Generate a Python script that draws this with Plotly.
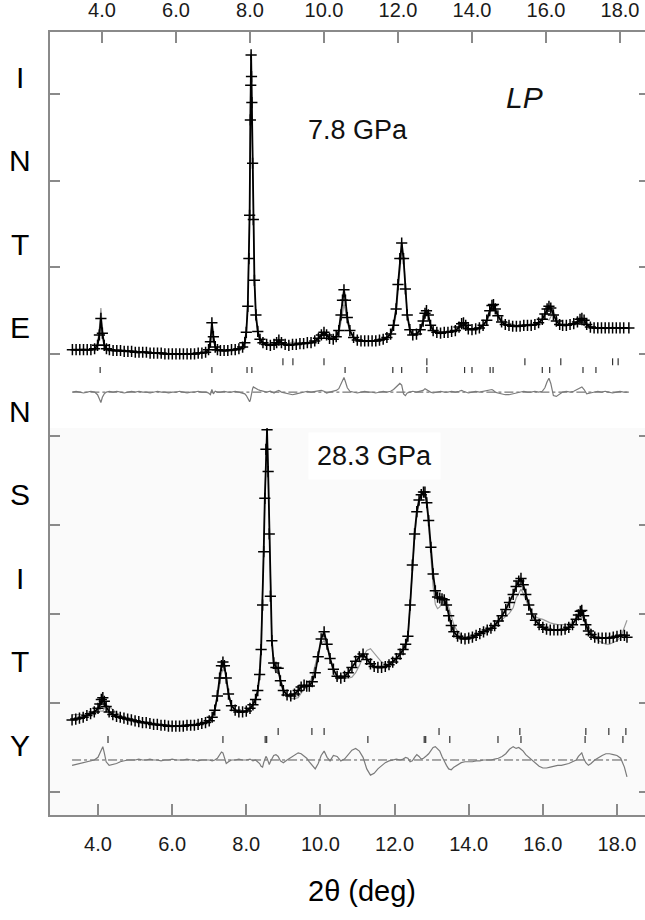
import plotly.graph_objects as go

# ---------------- 7.8 GPa pattern (upper panel) ----------------
U_X = [3.2, 3.3, 3.4, 3.5, 3.6, 3.7, 3.8, 3.88, 3.93, 3.97, 4.01, 4.06, 4.12, 4.2, 4.3, 4.4, 4.5, 4.6, 4.7, 4.8,
       4.9, 5.0, 5.1, 5.2, 5.3, 5.4, 5.5, 5.6, 5.7, 5.8, 5.9, 6.0, 6.1, 6.2, 6.3, 6.4, 6.5, 6.6, 6.7, 6.8,
       6.88, 6.93, 6.97, 7.01, 7.06, 7.12, 7.2, 7.3, 7.4, 7.5, 7.6, 7.7, 7.8, 7.86, 7.9, 7.94, 7.97, 7.99, 8.01, 8.02,
       8.03, 8.04, 8.05, 8.07, 8.09, 8.12, 8.16, 8.21, 8.27, 8.35, 8.45, 8.55, 8.65, 8.72, 8.78, 8.85, 8.95, 9.05, 9.15, 9.25,
       9.35, 9.45, 9.55, 9.65, 9.75, 9.85, 9.93, 10.0, 10.07, 10.15, 10.25, 10.33, 10.4, 10.46, 10.5, 10.54, 10.58, 10.63, 10.7, 10.8,
       10.9, 11.0, 11.1, 11.2, 11.3, 11.4, 11.5, 11.6, 11.7, 11.8, 11.88, 11.95, 12.0, 12.05, 12.1, 12.15, 12.2, 12.25, 12.32, 12.4,
       12.5, 12.6, 12.68, 12.73, 12.77, 12.82, 12.88, 12.95, 13.05, 13.15, 13.25, 13.35, 13.45, 13.55, 13.65, 13.72, 13.77, 13.83, 13.9, 14.0,
       14.1, 14.2, 14.3, 14.4, 14.48, 14.54, 14.58, 14.63, 14.7, 14.8, 14.9, 15.0, 15.1, 15.2, 15.3, 15.4, 15.5, 15.6, 15.7, 15.8,
       15.9, 15.97, 16.03, 16.08, 16.13, 16.2, 16.28, 16.37, 16.45, 16.55, 16.65, 16.75, 16.85, 16.92, 16.97, 17.03, 17.1, 17.2, 17.3, 17.4,
       17.5, 17.6, 17.7, 17.8, 17.9, 18.0, 18.1, 18.24]

U_OBS = [.05, .05, .05, .05, .05, .05, .06, .10, .22, .41, .24, .10, .06, .05, .04, .04, .04, .03, .03, .03,
         .02, .02, .02, .02, .01, .01, .01, .01, .00, .00, .00, .00, .00, .00, .00, .00, .00, .01, .01, .02,
         .05, .14, .36, .20, .08, .05, .04, .04, .04, .05, .05, .06, .08, .13, .25, .55, 1.1, 1.6, 2.7, 3.1,
         3.45, 3.2, 2.9, 2.2, 1.55, .85, .45, .26, .17, .13, .11, .10, .11, .13, .16, .13, .11, .10, .11, .11,
         .12, .12, .13, .13, .15, .18, .22, .25, .22, .18, .17, .20, .27, .45, .62, .74, .62, .42, .27, .19,
         .16, .15, .15, .15, .15, .15, .16, .17, .19, .23, .33, .52, .80, 1.1, 1.28, 1.1, .75, .45, .28, .22,
         .23, .28, .38, .47, .50, .45, .33, .27, .25, .24, .25, .25, .26, .27, .31, .35, .36, .33, .29, .28,
         .29, .30, .33, .39, .50, .56, .57, .52, .44, .37, .34, .33, .32, .32, .32, .33, .33, .33, .34, .36,
         .40, .46, .52, .55, .53, .45, .38, .34, .33, .33, .34, .35, .37, .40, .41, .39, .34, .31, .30, .30,
         .30, .30, .30, .30, .30, .30, .30, .30]

# observed minus calculated
U_DIFF = [0, .01, 0, -.01, 0, .01, 0, -.03, -.08, -.12, -.06, -.02, 0, .01, 0, .01, 0, -.01, 0, .01,
          0, .01, 0, 0, -.01, 0, .01, 0, 0, -.01, 0, 0, .01, 0, -.01, 0, 0, .01, 0, 0,
          -.01, -.03, .03, -.02, .01, 0, 0, .01, 0, 0, .01, 0, -.01, -.02, -.04, -.07, -.10, -.11, -.09, -.06,
          -.03, 0, .02, .04, .06, .05, .04, .03, .02, .01, 0, .01, -.01, .01, .02, 0, -.01, -.02, -.03, -.02,
          -.01, 0, .01, 0, .01, .02, .02, .01, -.01, 0, .01, .02, .04, .10, .15, .17, .12, .05, .01, 0,
          -.01, 0, .01, 0, 0, -.01, 0, .01, 0, .01, .03, .06, .09, .10, .08, -.02, -.04, -.01, 0, .01,
          0, .01, .02, .04, .03, .01, 0, -.01, 0, .01, 0, 0, .01, 0, .01, .02, .01, 0, -.01, 0,
          .01, 0, .01, .02, .03, .03, .02, 0, -.01, -.02, -.03, -.03, -.02, -.01, 0, .01, 0, 0, .01, 0,
          .01, .05, .12, .16, .10, -.04, -.05, -.02, 0, .01, 0, .01, .03, .05, .06, .03, -.02, -.01, 0, .01,
          0, .01, 0, -.01, 0, .01, 0, 0]

U_REFL_A = [8.89, 9.16, 10.0, 12.78, 15.43, 16.4, 17.8, 17.95]
U_REFL_B = [3.95, 6.97, 7.92, 8.05, 10.57, 11.86, 12.1, 12.78, 13.8, 14.0, 14.49, 14.57, 15.9, 16.1, 17.0, 17.35]

# ---------------- 28.3 GPa pattern (lower panel) ----------------
L_X = [3.3, 3.4, 3.5, 3.6, 3.7, 3.8, 3.9, 4.0, 4.05, 4.09, 4.13, 4.17, 4.22, 4.3, 4.4, 4.5, 4.6, 4.7, 4.8, 4.9,
       5.0, 5.1, 5.2, 5.3, 5.4, 5.5, 5.6, 5.7, 5.8, 5.9, 6.0, 6.1, 6.2, 6.3, 6.4, 6.5, 6.6, 6.7, 6.8, 6.9,
       7.0, 7.08, 7.15, 7.22, 7.28, 7.33, 7.37, 7.41, 7.46, 7.52, 7.6, 7.7, 7.8, 7.9, 8.0, 8.1, 8.18, 8.25, 8.31, 8.36,
       8.4, 8.44, 8.47, 8.5, 8.53, 8.56, 8.59, 8.62, 8.65, 8.69, 8.74, 8.8, 8.86, 8.92, 9.0, 9.1, 9.2, 9.3, 9.4, 9.48,
       9.56, 9.63, 9.7, 9.78, 9.86, 9.94, 10.02, 10.1, 10.18, 10.26, 10.35, 10.45, 10.55, 10.65, 10.75, 10.85, 10.95, 11.05, 11.15, 11.25,
       11.35, 11.45, 11.55, 11.65, 11.75, 11.85, 11.95, 12.05, 12.15, 12.23, 12.3, 12.36, 12.42, 12.48, 12.54, 12.6, 12.66, 12.72, 12.78, 12.82,
       12.87, 12.92, 12.98, 13.04, 13.1, 13.16, 13.22, 13.28, 13.34, 13.4, 13.46, 13.53, 13.6, 13.7, 13.8, 13.9, 14.0, 14.1, 14.2, 14.3,
       14.4, 14.5, 14.6, 14.7, 14.8, 14.9, 15.0, 15.1, 15.2, 15.28, 15.35, 15.41, 15.47, 15.54, 15.62, 15.7, 15.8, 15.9, 16.0, 16.1,
       16.2, 16.3, 16.4, 16.5, 16.6, 16.7, 16.8, 16.9, 16.96, 17.01, 17.05, 17.1, 17.16, 17.23, 17.3, 17.4, 17.5, 17.6, 17.7, 17.8,
       17.9, 18.0, 18.1, 18.2, 18.27]

L_OBS = [.81, .82, .83, .84, .86, .88, .90, .94, .99, 1.04, 1.06, 1.02, .96, .90, .87, .85, .84, .83, .82, .81,
         .80, .79, .78, .78, .77, .76, .76, .75, .75, .74, .74, .74, .74, .74, .75, .75, .75, .76, .77, .78,
         .80, .84, .92, 1.08, 1.28, 1.42, 1.46, 1.42, 1.28, 1.10, .97, .92, .90, .90, .91, .94, .98, 1.04, 1.14, 1.32,
         1.6, 2.1, 2.7, 3.3, 3.85, 4.07, 3.6, 2.9, 2.2, 1.7, 1.45, 1.40, 1.39, 1.25, 1.14, 1.09, 1.08, 1.10, 1.14, 1.18,
         1.20, 1.19, 1.19, 1.24, 1.34, 1.52, 1.72, 1.80, 1.66, 1.50, 1.38, 1.30, 1.28, 1.30, 1.34, 1.40, 1.47, 1.52, 1.55, 1.49,
         1.44, 1.41, 1.40, 1.40, 1.41, 1.43, 1.46, 1.50, 1.55, 1.60, 1.66, 1.75, 2.1, 2.55, 2.9, 3.15, 3.28, 3.34, 3.37, 3.37,
         3.25, 3.05, 2.75, 2.45, 2.26, 2.19, 2.18, 2.17, 2.16, 2.1, 1.98, 1.87, 1.8, 1.75, 1.73, 1.72, 1.73, 1.74, 1.76, 1.78,
         1.80, 1.82, 1.84, 1.87, 1.92, 1.98, 2.05, 2.13, 2.22, 2.31, 2.37, 2.40, 2.33, 2.22, 2.10, 2.0, 1.93, 1.88, 1.85, 1.83,
         1.82, 1.82, 1.82, 1.82, 1.83, 1.85, 1.88, 1.94, 1.99, 2.03, 2.04, 1.98, 1.88, 1.81, 1.77, 1.74, 1.73, 1.73, 1.73, 1.73,
         1.74, 1.75, 1.76, 1.76, 1.74]

L_DIFF = [-.06, -.05, -.04, -.03, -.02, -.01, 0, .03, .08, .13, .15, .08, -.02, -.06, -.05, -.04, -.02, -.01, 0, 0,
          0, .01, 0, 0, .01, 0, 0, -.01, 0, 0, .01, 0, 0, 0, .01, 0, 0, -.01, 0, 0,
          0, -.01, 0, .02, .06, .09, .08, .02, -.04, -.02, 0, 0, .01, 0, 0, .01, -.01, 0, -.02, -.04,
          -.07, -.08, -.03, .02, .04, .02, -.02, -.05, -.02, .02, .05, .06, .04, -.01, -.03, 0, .03, .05, .08, .07,
          .04, .02, -.02, -.06, -.10, -.04, .05, .10, .03, -.01, .05, .04, -.01, .01, .06, .11, .13, .10, .03, -.10,
          -.17, -.15, -.10, -.06, -.03, -.01, 0, .01, 0, .01, .03, .02, -.02, -.01, .03, .06, .04, .01, .02, .03,
          .05, .07, .10, .14, .15, .13, .10, .04, -.02, -.06, -.10, -.11, -.08, -.05, -.03, -.02, -.02, -.02, -.01, -.01,
          0, 0, 0, .01, .02, .04, .07, .12, .15, .13, .14, .12, .10, .06, .03, 0, -.04, -.07, -.09, -.09,
          -.08, -.07, -.06, -.06, -.05, -.04, -.02, 0, .04, .07, .08, .02, -.03, -.06, -.04, 0, .03, .05, .07, .07,
          .06, .05, .02, -.08, -.19]

L_REFL_A = [8.86, 9.77, 10.1, 13.2, 15.38, 17.16, 17.78, 18.24]
L_REFL_B = [4.27, 7.37, 8.51, 8.55, 11.28, 12.8, 12.84, 13.49, 14.79, 15.41, 17.14, 18.16]

assert len(U_X) == len(U_OBS) == len(U_DIFF)
assert len(L_X) == len(L_OBS) == len(L_DIFF)

TICK_VALUES = [4, 6, 8, 10, 12, 14, 16, 18]
TICK_LABELS = ["4.0", "6.0", "8.0", "10.0", "12.0", "14.0", "16.0", "18.0"]

# vertical placement of difference curves and reflection markers in each panel
U_DIFF_LEVEL, U_ROW_A, U_ROW_B = -0.44, (-0.05, -0.13), (-0.15, -0.22)
L_DIFF_LEVEL, L_ROW_A, L_ROW_B = 0.36, (0.72, 0.64), (0.63, 0.55)

FONT = "Liberation Sans, Arial, sans-serif"
AXIS_GRAY = "#8a8a8a"

fig = go.Figure()


def add_panel(xs, obs, diff, refl_a, refl_b, diff_level, row_a, row_b, xa, ya):
    calc = [o - d for o, d in zip(obs, diff)]
    # calculated profile
    fig.add_trace(go.Scatter(x=xs, y=calc, mode="lines", xaxis=xa, yaxis=ya,
                             line=dict(color="#9a9a9a", width=1.2), showlegend=False))
    # observed profile
    fig.add_trace(go.Scatter(x=xs, y=obs, mode="lines+markers", xaxis=xa, yaxis=ya,
                             line=dict(color="black", width=1.8),
                             marker=dict(symbol="cross-thin", size=8,
                                         line=dict(color="black", width=1.5)),
                             showlegend=False))
    # zero line of the difference curve
    fig.add_trace(go.Scatter(x=[xs[0], xs[-1]], y=[diff_level, diff_level], mode="lines",
                             xaxis=xa, yaxis=ya,
                             line=dict(color="#555555", width=1, dash="dashdot"), showlegend=False))
    # difference curve
    fig.add_trace(go.Scatter(x=xs, y=[diff_level + d for d in diff], mode="lines",
                             xaxis=xa, yaxis=ya,
                             line=dict(color="#7a7a7a", width=1.2), showlegend=False))
    # reflection markers, two phases
    for refl, (y0, y1) in ((refl_a, row_a), (refl_b, row_b)):
        bx, by = [], []
        for r in refl:
            bx += [r, r, None]
            by += [y0, y1, None]
        fig.add_trace(go.Scatter(x=bx, y=by, mode="lines", xaxis=xa, yaxis=ya,
                                 line=dict(color="#333333", width=1.2), showlegend=False))


add_panel(U_X, U_OBS, U_DIFF, U_REFL_A, U_REFL_B, U_DIFF_LEVEL, U_ROW_A, U_ROW_B, "x", "y")
add_panel(L_X, L_OBS, L_DIFF, L_REFL_A, L_REFL_B, L_DIFF_LEVEL, L_ROW_A, L_ROW_B, "x2", "y2")

# empty traces so the right-hand tick axes are drawn
fig.add_trace(go.Scatter(x=[], y=[], xaxis="x", yaxis="y3", showlegend=False))
fig.add_trace(go.Scatter(x=[], y=[], xaxis="x2", yaxis="y4", showlegend=False))

SPLIT = 0.4943
U_RANGE = [-0.8535, 3.714]
L_RANGE = [-0.258, 4.090]

common_x = dict(tickvals=TICK_VALUES, ticktext=TICK_LABELS, ticks="inside", ticklen=11,
                tickwidth=1.5, tickcolor=AXIS_GRAY, showline=True, linecolor=AXIS_GRAY,
                linewidth=2, showgrid=False, zeroline=False,
                tickfont=dict(family=FONT, size=20, color="#1a1a1a"))
common_y = dict(dtick=1, tick0=0, ticks="inside", ticklen=10, tickwidth=1.5,
                tickcolor=AXIS_GRAY, showticklabels=False, showgrid=False, zeroline=False)

fig.update_layout(
    width=645, height=920,
    margin=dict(l=50, r=0, t=32, b=105),
    paper_bgcolor="white", plot_bgcolor="rgba(0,0,0,0)",
    xaxis=dict(domain=[0, 1], anchor="y", side="top", range=[2.5946, 18.676],
               ticklabelstandoff=5, **common_x),
    xaxis2=dict(domain=[0, 1], anchor="y2", side="bottom", range=[2.705, 18.756],
                ticklabelstandoff=10, **common_x),
    yaxis=dict(domain=[SPLIT, 1], anchor="x", range=U_RANGE, showline=True,
               linecolor=AXIS_GRAY, linewidth=2, **common_y),
    yaxis2=dict(domain=[0, SPLIT], anchor="x2", range=L_RANGE, showline=True,
                linecolor=AXIS_GRAY, linewidth=2, **common_y),
    yaxis3=dict(overlaying="y", side="right", anchor="x", range=U_RANGE, showline=False,
                **{**common_y, "ticklen": 6}),
    yaxis4=dict(overlaying="y2", side="right", anchor="x2", range=L_RANGE, showline=False,
                **{**common_y, "ticklen": 6}),
)

# faint grey backdrop of the high-pressure panel
fig.add_shape(type="rect", xref="x2 domain", yref="y2 domain", x0=0, x1=1, y0=0, y1=1,
              fillcolor="#fafafa", line=dict(width=0), layer="below")

# panel labels
fig.add_annotation(x=10.92, y=2.58, xref="x", yref="y", text="7.8 GPa", showarrow=False,
                   font=dict(family=FONT, size=27, color="#111"))
fig.add_annotation(x=15.43, y=2.96, xref="x", yref="y", text="<i>LP</i>", showarrow=False,
                   font=dict(family=FONT, size=30, color="#111"))
fig.add_annotation(x=11.45, y=3.78, xref="x2", yref="y2", text="28.3 GPa", showarrow=False,
                   bgcolor="white", borderpad=8,
                   font=dict(family=FONT, size=27, color="#111"))

# vertical axis title, one letter per row
for i, ch in enumerate("INTENSITY"):
    ypx = 77 + 83.5 * i
    fig.add_annotation(x=(20 - 50) / 595, y=(815 - ypx) / 783, xref="paper", yref="paper",
                       text=ch, showarrow=False, xanchor="center", yanchor="middle",
                       font=dict(family=FONT, size=30, color="black"))

# horizontal axis title
fig.add_annotation(x=(362 - 50) / 595, y=(815 - 891) / 783, xref="paper", yref="paper",
                   text="2θ (deg)", showarrow=False, xanchor="center", yanchor="middle",
                   font=dict(family=FONT, size=29, color="black"))

fig.write_html("out.html")
